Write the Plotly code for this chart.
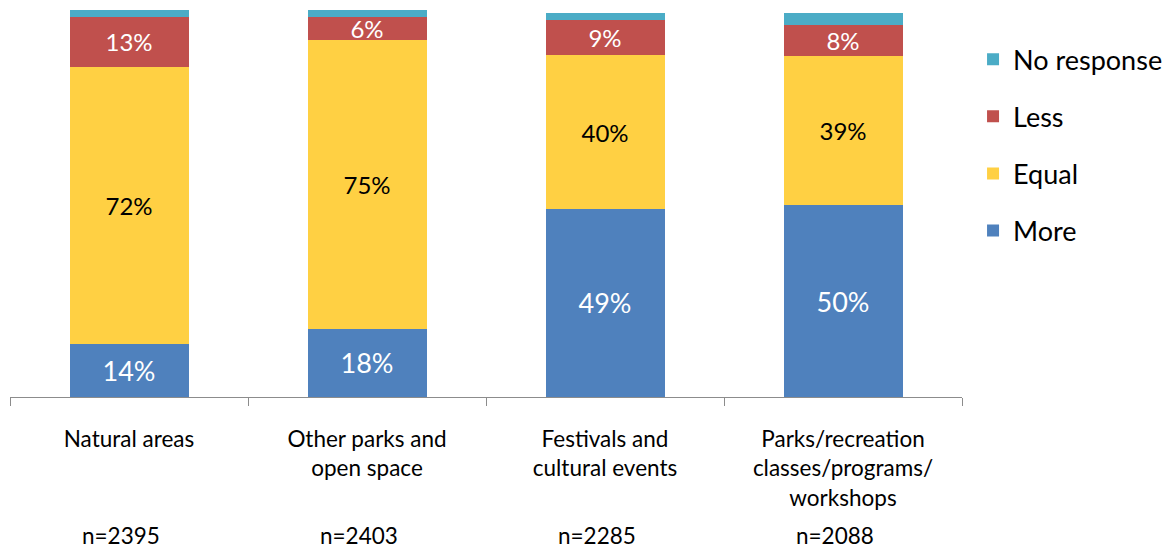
import plotly.graph_objects as go

# ── data ──
categories = [
    "Natural areas",
    "Other parks and<br>open space",
    "Festivals and<br>cultural events",
    "Parks/recreation<br>classes/programs/<br>workshops",
]
n_labels = ["n=2395", "n=2403", "n=2285", "n=2088"]

more = [13.7, 17.6, 48.6, 49.6]
equal = [71.6, 74.6, 39.7, 38.6]
less = [12.9, 6.0, 9.0, 7.9]
no_response = [2.0, 2.0, 2.0, 3.0]

# ── styles ──
FONT = "Lato, 'Open Sans', sans-serif"
COLOR_MORE = "#4F81BD"
COLOR_EQUAL = "#FFD043"
COLOR_LESS = "#C0504D"
COLOR_NR = "#4BACC6"
AXIS_GRAY = "#8C8C8C"

# name, values, colour, label colour, label size, legend rank
series = [
    ("More", more, COLOR_MORE, "white", 27, 4),
    ("Equal", equal, COLOR_EQUAL, "black", 24, 3),
    ("Less", less, COLOR_LESS, "white", 24, 2),
    ("No response", no_response, COLOR_NR, "white", 0, 1),
]

fig = go.Figure()
for name, vals, color, txt_color, txt_size, rank in series:
    show_text = txt_size > 0
    fig.add_trace(go.Bar(
        x=categories,
        y=vals,
        name=name,
        legendgroup=name,
        legendrank=rank,
        marker=dict(color=color, line=dict(width=0)),
        texttemplate="%{y:.0f}%" if show_text else None,
        textposition="inside" if show_text else "none",
        insidetextanchor="middle",
        constraintext="none",
        textfont=dict(family=FONT, size=txt_size or 12, color=txt_color),
        hoverinfo="skip",
    ))

for cat, lab in zip(categories, n_labels):
    fig.add_annotation(
        x=cat, y=0, xref="x", yref="paper",
        text=lab, showarrow=False,
        yshift=-138, xshift=-8, yanchor="middle",
        font=dict(family=FONT, size=22.5, color="black"),
    )

# page body adds an 8px offset, so margins are trimmed on top/left
fig.update_layout(
    barmode="stack",
    bargap=0.5,
    width=1171,
    height=548,
    margin=dict(l=2, r=217, t=2, b=159),
    paper_bgcolor="white",
    plot_bgcolor="white",
    font=dict(family=FONT, color="black"),
    showlegend=True,
    legend=dict(
        x=1.0116, xanchor="left",
        y=0.935, yanchor="top",
        traceorder="grouped",
        tracegroupgap=19,
        font=dict(family=FONT, size=27, color="black"),
        bgcolor="rgba(0,0,0,0)",
    ),
    xaxis=dict(
        range=[-0.5, 3.5],
        showline=True, linecolor=AXIS_GRAY, linewidth=1,
        ticks="outside", tickson="boundaries", ticklen=8, tickcolor=AXIS_GRAY,
        showgrid=False, zeroline=False,
        tickfont=dict(family=FONT, size=22.5, color="black"),
        ticklabelstandoff=22,
    ),
    yaxis=dict(range=[0, 100], visible=False, showgrid=False, zeroline=False),
)

fig.write_html("out.html")
